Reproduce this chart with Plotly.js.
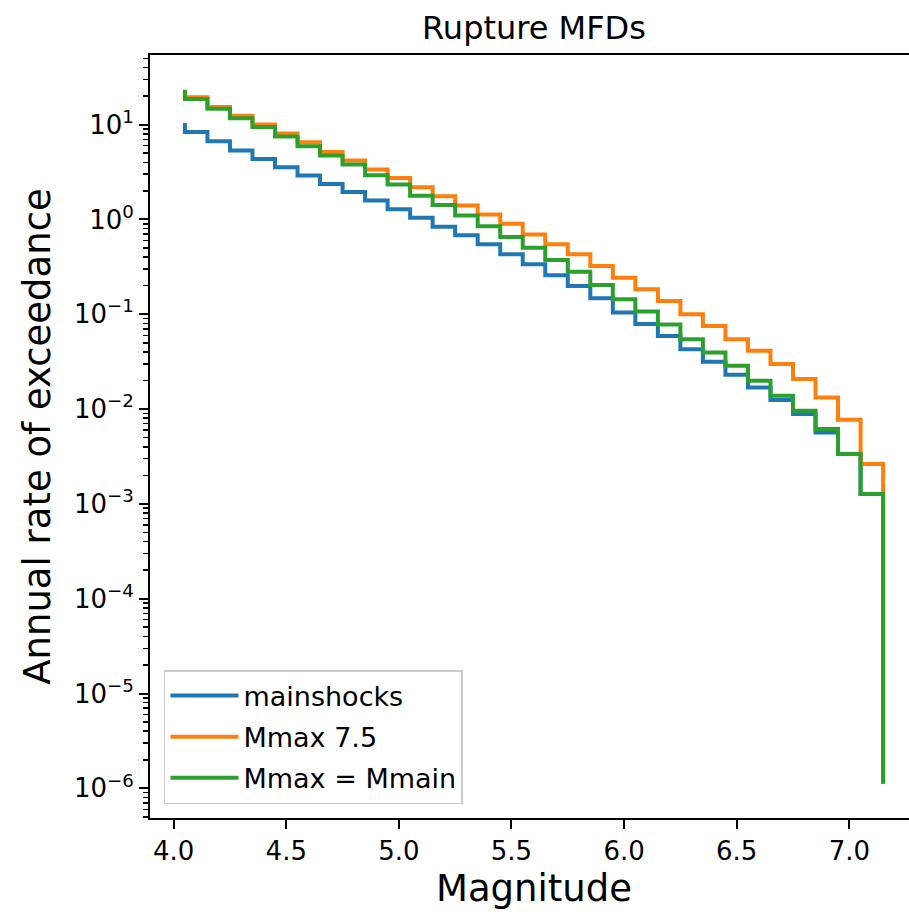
<!DOCTYPE html>
<html>
<head>
<meta charset="utf-8">
<script src="https://cdn.plot.ly/plotly-3.0.1.min.js"></script>
<style>
html, body { margin: 0; padding: 0; overflow: hidden; background: #ffffff; }
#chart { width: 918px; height: 916px; }
</style>
</head>
<body>
<div id="chart"></div>
<script>
// Magnitude points (step edges); the last magnitude repeats for the final drop at Mmax
const magnitudes = [4.05, 4.15, 4.25, 4.35, 4.45, 4.55, 4.65, 4.75, 4.85, 4.95,
                    5.05, 5.15, 5.25, 5.35, 5.45, 5.55, 5.65, 5.75, 5.85, 5.95,
                    6.05, 6.15, 6.25, 6.35, 6.45, 6.55, 6.65, 6.75, 6.85, 6.95,
                    7.05, 7.15, 7.15];

const mainshocks = [10.4, 8.36, 6.67, 5.32, 4.34, 3.55, 2.91, 2.37, 1.95, 1.585,
                    1.28, 1.04, 0.836, 0.679, 0.546, 0.428, 0.336, 0.257, 0.199, 0.147,
                    0.104, 0.079, 0.0591, 0.0428, 0.0315, 0.0230, 0.0169, 0.01244, 0.00886, 0.00567,
                    0.00336, 0.00127, 1.12e-6];

const mmax75 = [23.0, 19.4, 15.3, 12.4, 10.0, 8.04, 6.51, 5.15, 4.18, 3.36,
                2.74, 2.19, 1.76, 1.40, 1.13, 0.899, 0.695, 0.546, 0.428, 0.322,
                0.243, 0.183, 0.138, 0.100, 0.0753, 0.0546, 0.0411, 0.0298, 0.0207, 0.0132,
                0.0077, 0.00264, 1.13e-6];

const mmaxMmain = [23.3, 18.6, 14.7, 11.7, 9.44, 7.48, 5.92, 4.72, 3.80, 2.93,
                   2.33, 1.78, 1.42, 1.10, 0.849, 0.651, 0.502, 0.373, 0.281, 0.203,
                   0.144, 0.107, 0.0781, 0.0546, 0.0394, 0.0286, 0.0199, 0.0138, 0.00959, 0.00615,
                   0.00336, 0.00127, 1.13e-6];

const seriesNames = ["mainshocks", "Mmax 7.5", "Mmax = Mmain"];
const seriesColors = ["#1f77b4", "#ff7f0e", "#2ca02c"];
const xTickVals = [4.0, 4.5, 5.0, 5.5, 6.0, 6.5, 7.0];
const yTickExponents = [-6, -5, -4, -3, -2, -1, 0, 1];

const FONT = "DejaVu Sans, Verdana, sans-serif";
const seriesData = [mainshocks, mmax75, mmaxMmain];

const traces = seriesData.map((ys, i) => ({
  type: "scatter",
  mode: "lines",
  x: magnitudes,
  y: ys,
  name: seriesNames[i],
  legendgroup: "g" + i,
  line: { color: seriesColors[i], width: 4, shape: "vh" },
  hoverinfo: "x+y+name"
}));

const layout = {
  width: 918,
  height: 916,
  margin: { l: 150, r: 0, t: 55, b: 98, pad: 0 },
  paper_bgcolor: "#ffffff",
  plot_bgcolor: "#ffffff",
  font: { family: FONT, color: "#000000", size: 26 },
  showlegend: true,
  title: {
    text: "Rupture MFDs",
    font: { family: FONT, size: 32, color: "#000000" },
    x: (150 + 768 / 2) / 918, xanchor: "center", xref: "container",
    y: 1 - 28 / 916, yanchor: "middle", yref: "container"
  },
  xaxis: {
    range: [3.895, 7.305],
    tickvals: xTickVals,
    ticktext: xTickVals.map(v => v.toFixed(1)),
    ticks: "outside", ticklen: 9, tickwidth: 2, tickcolor: "#000000",
    showline: true, linecolor: "#000000", linewidth: 2, mirror: true,
    showgrid: false, zeroline: false,
    tickfont: { family: FONT, size: 26, color: "#000000" },
    title: { text: "Magnitude", font: { family: FONT, size: 37, color: "#000000" }, standoff: 10 },
    automargin: false
  },
  yaxis: {
    type: "log",
    range: [-6.313, 1.734],
    tickvals: yTickExponents.map(e => Math.pow(10, e)),
    ticktext: yTickExponents.map(e => "10<sup>" + (e < 0 ? "\u2212" + (-e) : String(e)) + "</sup>"),
    ticks: "outside", ticklen: 9, tickwidth: 2, tickcolor: "#000000",
    minor: { ticks: "outside", ticklen: 5, tickwidth: 1.5, tickcolor: "#000000", dtick: "D1", showgrid: false },
    showline: true, linecolor: "#000000", linewidth: 2, mirror: true,
    showgrid: false, zeroline: false,
    tickfont: { family: FONT, size: 26, color: "#000000" },
    title: { text: "Annual rate of exceedance", font: { family: FONT, size: 37, color: "#000000" }, standoff: 12 },
    automargin: false
  },
  legend: {
    x: 0.0182, y: 0.0183, xanchor: "left", yanchor: "bottom",
    bgcolor: "rgba(255,255,255,0.8)",
    bordercolor: "#cccccc", borderwidth: 1.5,
    font: { family: FONT, size: 27, color: "#000000" },
    itemwidth: 68,
    tracegroupgap: 3,
    traceorder: "grouped"
  }
};

Plotly.newPlot("chart", traces, layout, { displayModeBar: false, staticPlot: true });
</script>
</body>
</html>
